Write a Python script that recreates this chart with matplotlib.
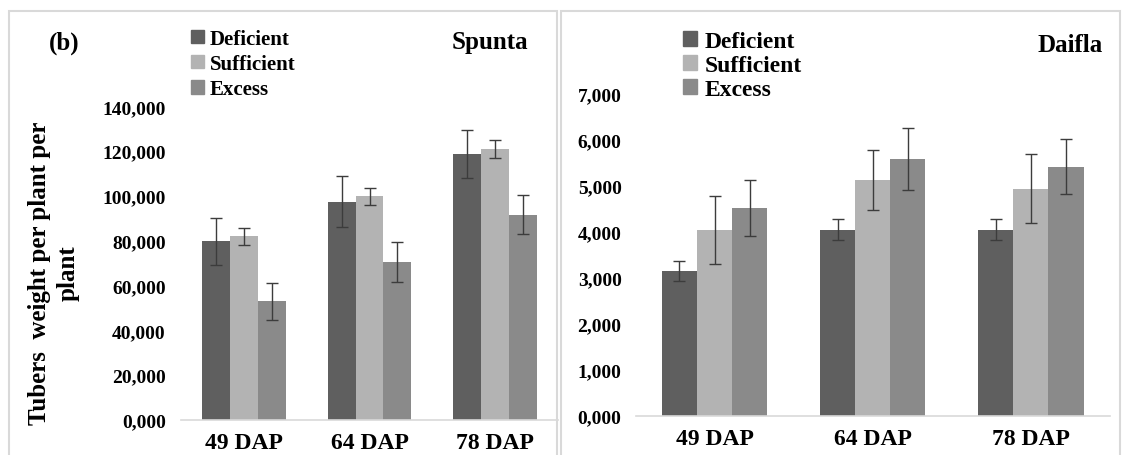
import numpy as np
import matplotlib
matplotlib.use("Agg")
import matplotlib.pyplot as plt
from matplotlib.patches import Rectangle, Patch

plt.rcParams['font.family'] = ['Liberation Serif', 'DejaVu Serif']
plt.rcParams['font.weight'] = 'bold'

# data
stages = ["49 DAP", "64 DAP", "78 DAP"]
treatments = ["Deficient", "Sufficient", "Excess"]
colors = ["#5f5f5f", "#b3b3b3", "#8a8a8a"]

spunta_mean = [[79700, 97500, 118700],
               [82000, 99800, 120900],
               [52900, 70600, 91700]]
spunta_err = [[10600, 11300, 10700],
              [3700, 3900, 4000],
              [8300, 8900, 8500]]
spunta_ticks = ["0,000", "20,000", "40,000", "60,000", "80,000",
                "100,000", "120,000", "140,000"]

daifla_mean = [[3150, 4050, 4050],
               [4050, 5130, 4940],
               [4520, 5580, 5420]]
daifla_err = [[220, 220, 220],
              [740, 660, 750],
              [610, 670, 600]]
daifla_ticks = ["0,000", "1,000", "2,000", "3,000", "4,000",
                "5,000", "6,000", "7,000"]

W, H = 1124, 456
fig = plt.figure(figsize=(W / 100, H / 100), dpi=100)

def px(x0, y0, x1, y1):
    # pixel box (top-left origin) -> figure fraction [l, b, w, h]
    return [x0 / W, 1 - y1 / H, (x1 - x0) / W, (y1 - y0) / H]

# panel borders
for (x0, x1) in [(9, 557), (561, 1120)]:
    fig.patches.append(Rectangle((x0 / W, -0.05), (x1 - x0) / W, 1.05 - 12 / H,
                                 transform=fig.transFigure, fill=False,
                                 edgecolor="#d9d9d9", lw=1.5))

def draw(ax, means, errs, ymax, step, ticklabels, pad_y):
    x = np.arange(len(stages))
    bw = 0.222
    for i, t in enumerate(treatments):
        ax.bar(x + (i - 1) * bw, means[i], bw, color=colors[i], label=t,
               yerr=errs[i], error_kw=dict(ecolor="#3c3c3c", elinewidth=1.0,
                                           capsize=4, capthick=1.0))
    ax.set_xlim(-0.5, 2.5)
    ax.set_ylim(0, ymax)
    ax.set_yticks(np.arange(0, ymax + 1, step))
    ax.set_yticklabels(ticklabels, fontsize=14, fontweight="bold")
    ax.set_xticks(x)
    ax.set_xticklabels(stages, fontsize=17, fontweight="bold")
    for s in ["top", "right", "left"]:
        ax.spines[s].set_visible(False)
    ax.spines["bottom"].set_color("#d9d9d9")
    ax.spines["bottom"].set_linewidth(1.2)
    ax.tick_params(axis="both", length=0)
    ax.tick_params(axis="y", pad=pad_y)
    ax.tick_params(axis="x", pad=9)

ax1 = fig.add_axes(px(181, 107.3, 558, 421))
draw(ax1, spunta_mean, spunta_err, 140000, 20000, spunta_ticks, 11)

ax2 = fig.add_axes(px(635.5, 95, 1110, 416.7))
draw(ax2, daifla_mean, daifla_err, 7000, 1000, daifla_ticks, 10)

# legends
leg_kw = dict(frameon=False, handlelength=0.6, handleheight=0.6,
              handletextpad=0.3, borderpad=0, borderaxespad=0)
handles = [Patch(color=c) for c in colors]
fig.legend(handles, treatments, loc="upper left",
           bbox_to_anchor=(191 / W, 1 - 30 / H),
           labelspacing=0.25, prop=dict(size=15, weight="bold"), **leg_kw)
fig.legend(handles, treatments, loc="upper left",
           bbox_to_anchor=(683 / W, 1 - 32 / H),
           labelspacing=0.12, prop=dict(size=17, weight="bold"), **leg_kw)

fig.text(64 / W, 1 - 43 / H, "(b)", fontsize=18, fontweight="bold",
         ha="center", va="center")
fig.text(490 / W, 1 - 43 / H, "Spunta", fontsize=18, fontweight="bold",
         ha="center", va="center")
fig.text(1070 / W, 1 - 46 / H, "Daifla", fontsize=18, fontweight="bold",
         ha="center", va="center")
fig.text(54 / W, 1 - 273 / H, "Tubers  weight per plant per\nplant",
         fontsize=18, fontweight="bold", rotation=90, ha="center", va="center",
         multialignment="center", linespacing=1.3)

fig.savefig("out.png", dpi=100)
